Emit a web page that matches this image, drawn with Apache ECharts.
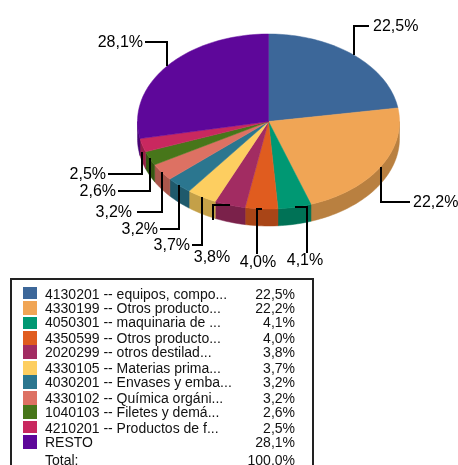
<!DOCTYPE html>
<html><head><meta charset="utf-8">
<style>html,body{margin:0;padding:0;background:#fff}#c{width:458px;height:465px}</style>
<script src="https://cdn.jsdelivr.net/npm/echarts@6/dist/echarts.min.js"></script>
</head><body><div id="c"></div>
<script>
const categories=["4130201 -- equipos, compo...","4330199 -- Otros producto...","4050301 -- maquinaria de ...","4350599 -- Otros producto...","2020299 -- otros destilad...","4330105 -- Materias prima...","4030201 -- Envases y emba...","4330102 -- Química orgáni...","1040103 -- Filetes y demá...","4210201 -- Productos de f...","RESTO"];
const values=[22.5,22.2,4.1,4.0,3.8,3.7,3.2,3.2,2.6,2.5,28.1];
const colors=["#3c6799","#f0a555","#009873","#e05c1f","#a22c62","#fdce60","#2b768f","#dd7163","#47761a","#c9285f","#5e079a"];
const sideColors=["#2d4d73","#b98040","#007256","#a94517","#7a214a","#c4a048","#1f5a6c","#a9564b","#355813","#971e47","#470574"];
const totalLabel="Total:";const totalValue="100,0%";

// layout
const cx=268.5,cy=121.5,rx=131,ry=87.5,depth=17;
// leader end point, elbow mode (v: vertical first, h: horizontal first), label position, label align, anchor nudge
const leaders=[[369,26,'v',373,27,'left',0],[410,202,'v',413,203,'left',0],[307,253,'h',305,261,'center',0],[257,254,'h',258,263,'center',0],[213,220,'h',212,258,'center',0],[192,245,'v',190,246,'right',0],[160,229,'v',158,230,'right',0],[137,212,'v',132,213,'right',0],[118,191,'v',116,192,'right',0],[108,174,'v',106,175,'right',7],[145,42,'v',143,43,'right',0]];
const swatchTop=[287,301,317,331,345,361,375,391,405,421,435];
const swatchH=[12,14,12,14,14,14,14,14,14,12,14];
const textY=[295,309,323,339,353,369,383,399,413,429,443];
const totalY=461;

const total=values.reduce((a,b)=>a+b,0);
const slices=[];let acc=0;
values.forEach(v=>{const s=acc/total*360;acc+=v;slices.push([s,acc/total*360]);});
const pt=(deg,dy)=>{const t=deg*Math.PI/180;return [cx+rx*Math.sin(t),cy-ry*Math.cos(t)+(dy||0)];};
const arc=(a,b,dy)=>{const n=Math.max(2,Math.ceil((b-a)/1.5)),o=[];for(let i=0;i<=n;i++)o.push(pt(a+(b-a)*i/n,dy));return o;};
const pct=v=>v.toFixed(1).replace('.',',')+'%';
const idx=values.map((v,i)=>[i,v]);

const sideItem=(p,api)=>{const i=api.value(0);const a=Math.max(slices[i][0],90),b=Math.min(slices[i][1],270);
  if(b<=a)return {type:'group',children:[]};
  const pts=arc(a,b,0).concat(arc(a,b,depth).reverse());
  return {type:'polygon',shape:{points:pts},style:{fill:sideColors[i],stroke:sideColors[i],lineWidth:.5}};};
const topItem=(p,api)=>{const i=api.value(0);const pts=[[cx,cy]].concat(arc(slices[i][0],slices[i][1],0));
  return {type:'polygon',shape:{points:pts},style:{fill:colors[i],stroke:colors[i],lineWidth:.5}};};
const leaderItem=(p,api)=>{const i=api.value(0);const m=(slices[i][0]+slices[i][1])/2,L=leaders[i],a0=pt(m,L[6]),A=[Math.round(a0[0]),Math.round(a0[1])];
  const corner=L[2]==='v'?[A[0],L[1]]:[L[0],A[1]];
  return {type:'group',children:[
    {type:'polyline',shape:{points:[A,corner,[L[0],L[1]]]},style:{fill:'none',stroke:'#000',lineWidth:2}},
    {type:'text',style:{text:pct(values[i]),x:L[3],y:L[4],align:L[5],verticalAlign:'middle',font:'16px "Liberation Sans"',fill:'#000'}}]};};
const legendFont='14px "Liberation Sans"';
const legendItem=(p,api)=>{const i=api.value(0);
  return {type:'group',children:[
    {type:'rect',shape:{x:23,y:swatchTop[i],width:14,height:swatchH[i]},style:{fill:colors[i]}},
    {type:'text',style:{text:categories[i],x:45,y:textY[i],align:'left',verticalAlign:'middle',font:legendFont,fill:'#111'}},
    {type:'text',style:{text:pct(values[i]),x:295,y:textY[i],align:'right',verticalAlign:'middle',font:legendFont,fill:'#111'}}]};};

const mk=(fn,z)=>({type:'custom',coordinateSystem:'none',data:idx,renderItem:fn,z:z,silent:true,animation:false,clip:false});
const chart=echarts.init(document.getElementById('c'),null,{renderer:'canvas'});
chart.setOption({animation:false,backgroundColor:'#fff',
  graphic:[
    {type:'rect',shape:{x:11,y:279,width:302,height:200},style:{fill:'none',stroke:'#222',lineWidth:2},z:1},
    {type:'text',style:{text:totalLabel,x:45,y:totalY,align:'left',verticalAlign:'middle',font:legendFont,fill:'#111'},z:5},
    {type:'text',style:{text:totalValue,x:295,y:totalY,align:'right',verticalAlign:'middle',font:legendFont,fill:'#111'},z:5}
  ],
  series:[mk(sideItem,2),mk(topItem,3),mk(leaderItem,4),mk(legendItem,5)]});
</script></body></html>
